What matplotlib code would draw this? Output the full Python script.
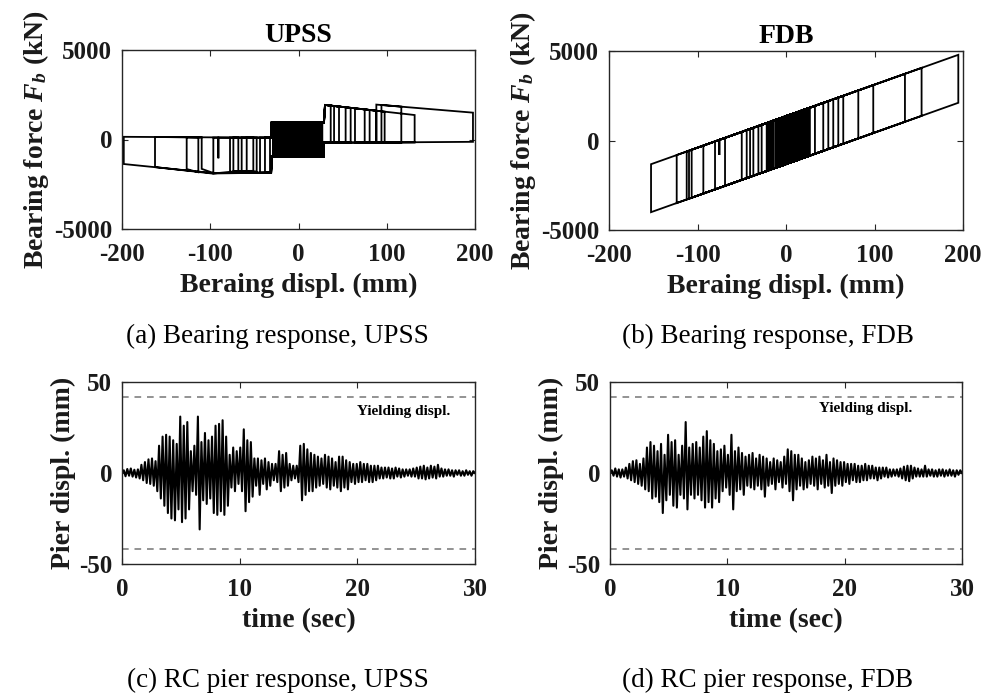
import numpy as np
import matplotlib
matplotlib.use("Agg")
import matplotlib.pyplot as plt

plt.rcParams['font.family'] = ['Liberation Serif', 'DejaVu Serif']
plt.rcParams['font.weight'] = 'bold'
plt.rcParams['mathtext.fontset'] = 'custom'
plt.rcParams['mathtext.rm'] = 'Liberation Serif:bold'
plt.rcParams['mathtext.it'] = 'Liberation Serif:bold:italic'
plt.rcParams['mathtext.bf'] = 'Liberation Serif:bold'
plt.rcParams['mathtext.bfit'] = 'Liberation Serif:bold:italic'

# ---------------- data ----------------
# UPSS bearing hysteresis: path vertices (displacement mm, force kN)
upss_loop = [
    (0, 0), (0, 950),
    (6, 950), (6, -950), (-5, -950), (-5, 950),
    (10, 950), (10, -950), (-9, -950), (-9, 950),
    (15, 950), (15, -950), (-13, -950), (-13, 950),
    (19, 950), (19, -950), (-17, -950), (-17, 950),
    (23, 950), (23, -950), (-22, -950), (-22, 950),
    (27, 950), (27, -950), (-27, -950), (-27, 950),
    (28.9, 950), (30, 1930), (36.5, 1894), (36.5, -170), (28.9, -170), (28.9, -950),
    (-30.4, -950), (-31, -1850), (-32.3, -1852), (-32.3, 100), (-30.4, 100), (-30.4, 950),
    (25, 950), (25, -950), (-20, -950), (-20, 950), (12, 950), (12, -950), (-3, -950), (-3, 950),
    (28.9, 950), (30, 1930), (45.9, 1842), (45.9, -170), (28.9, -170), (28.9, -950),
    (-30.4, -950), (-31, -1850), (-38, -1852), (-38, 100), (-30.4, 100), (-30.4, 950),
    (4, 950), (4, -950), (-15, -950), (-15, 950),
    (28.9, 950), (30, 1930), (59.1, 1769), (59.1, -170), (40.3, -170), (40.3, 1873),
    (53.4, 1800), (53.4, -170), (28.9, -170), (28.9, -950),
    (-30.4, -950), (-31, -1850), (-43.6, -1855), (-43.6, 100), (-30.4, 100), (-30.4, 950),
    (21, 950), (21, -950), (-7, -950), (-7, 950), (17, 950), (17, -950),
    (-30.4, -950), (-31, -1850), (-58.7, -1860), (-58.7, 100), (-47.4, 100), (-47.4, -1780),
    (-64.4, -1800), (-64.4, 100), (-30.4, 100), (-30.4, 950),
    (8, 950), (8, -950), (-25, -950), (-25, 950),
    (28.9, 950), (30, 1930), (80.6, 1650), (80.6, -170), (64, -170), (64, 1742),
    (97.6, 1555), (97.6, -170), (28.9, -170), (28.9, -950),
    (-30.4, -950), (-31, -1850), (-77.6, -1870), (-77.6, 100), (-68.2, 100), (-68.2, -1760),
    (-96.5, -1900), (-96.5, 100), (-90.8, 100), (-90.8, -1050), (-90.8, 100), (-51.2, 100),
    (-51.2, -1750), (-73.8, -1770), (-73.8, 100), (-30.4, 100), (-30.4, 950),
    (14, 950), (14, -950), (-28, -950), (-28, 950),
    (28.9, 950), (30, 1930), (131.6, 1367), (131.6, -170), (88.2, -170), (88.2, 1950),
    (197.7, 1500), (197.7, -130), (94, -165), (94, 1930), (116.5, 1837), (116.5, -165),
    (75, -170), (75, 1681), (88.2, 1608), (88.2, -170), (28.9, -170), (28.9, -950),
    (-30.4, -950), (-31, -1850), (-98, -1900), (-162.6, -1540), (-162.6, 140), (-113.5, 115),
    (-113.5, -1830), (-126.7, -1650), (-126.7, 120), (-109.7, 110), (-109.7, -1640),
    (-96, -1880), (-198, -1370), (-198, 150), (-30.4, 100), (-30.4, 950),
    (26, 950), (26, -950), (-29, -950), (-29, 950), (24, 950), (24, -950), (-26, -950), (-26, 950),
    (22, 950), (22, -950), (-23, -950), (-23, 950), (18, 950), (18, -950), (-19, -950), (-19, 950),
    (16, 950), (16, -950), (-14, -950), (-14, 950), (13, 950), (13, -950), (-11, -950), (-11, 950),
    (11, 950), (11, -950), (-8, -950), (-8, 950), (9, 950), (9, -950), (-4, -950), (-4, 950),
    (7, 950), (7, -950), (-2, -950), (-2, 950), (5, 950), (5, -950), (-1, -950), (-1, 950),
    (3, 950), (3, -950), (1, -950), (1, 950), (2, 950), (2, 0),
]

# FDB bearing hysteresis: path vertices (displacement mm, force kN)
fdb_loop = [
    (0, 0), (0, 1360),
    (4, 1430), (4, -1250), (-4, -1390), (-4, 1290),
    (8, 1501), (8, -1179), (-6, -1426), (-6, 1254),
    (10, 1536), (10, -1144), (-10, -1496), (-10, 1184),
    (14, 1606), (14, -1074), (-8, -1461), (-8, 1219),
    (6, 1466), (6, -1214), (-14.3, -1572), (-14.3, 1108),
    (18, 1677), (18, -1003), (-12, -1531), (-12, 1149),
    (12, 1571), (12, -1109), (-18, -1637), (-18, 1043),
    (22, 1747), (22, -933), (-2, -1355), (-2, 1325),
    (16, 1642), (16, -1038), (-21.8, -1704), (-21.8, 976),
    (20, 1712), (20, -968), (-27.5, -1804), (-27.5, 876),
    (25, 1800), (25, -880), (-31.2, -1869), (-31.2, 811),
    (32.7, 1936), (32.7, -744), (-36.9, -1969), (-36.9, 711),
    (27, 1835), (27, -845), (-40.6, -2035), (-40.6, 645),
    (42.1, 2101), (42.1, -579), (-44.4, -2101), (-44.4, 579),
    (47.8, 2201), (47.8, -479), (-50, -2200), (-50, 480),
    (53.4, 2300), (53.4, -380), (-68.9, -2533), (-68.9, 147),
    (59.1, 2400), (59.1, -280), (-80.2, -2732), (-80.2, -52),
    (-75.3, 35), (-75.3, -810), (-75.3, 35),
    (64.7, 2499), (64.7, -181), (-93.4, -2964), (-93.4, -284),
    (81.7, 2798), (81.7, 118), (-106.6, -3196), (-106.6, -516),
    (98.6, 3095), (98.6, 415), (-109.6, -3249), (-109.6, -569),
    (134.4, 3725), (134.4, 1045), (-112.2, -3295), (-112.2, -615),
    (194.7, 4787), (194.7, 2107), (-152.5, -4004), (-152.5, -1324),
    (153.2, 4056), (153.2, 1376), (-123.5, -3494), (-123.5, -814),
    (24, 1782), (24, -898), (-16, -1602), (-16, 1078),
    (2, 1395), (2, -1285), (-3, -1373), (-3, 1307),
    (26, 1818), (26, -862), (0, -1320), (0, 1360),
    (23, 1765), (23, -915), (-20, -1672), (-20, 1008),
    (19, 1694), (19, -986), (-5, -1408), (-5, 1272),
    (17, 1659), (17, -1021), (-1, -1338), (-1, 1342),
    (15, 1624), (15, -1056), (-11, -1514), (-11, 1166),
    (13, 1589), (13, -1091), (-7, -1443), (-7, 1237),
    (11, 1554), (11, -1126), (-9, -1478), (-9, 1202),
    (9, 1518), (9, -1162), (1, -1302), (1, 1378),
    (7, 1483), (7, -1197), (3, -1267), (3, 1413),
    (5, 1448), (5, -1232),
]

# RC pier displacement extremes (mm), sampled every 0.15 s from 0 to 30 s
upss_pier = [
    0, 1.5, -1.8, 2.2, -1.5, 2.5, -2.0, 1.8, -2.5, 2.0,
    -3.0, 4.5, -4.0, 6.0, -5.5, 7.5, -6.0, 8.0, -7.0, 6.5,
    -10, 15, -14, 20, -18, 21, -22, 20, -25, 18,
    -26, 16, -20, 31, -27, 26, -25, 28, -20, 12,
    -10, 15, -12, 31, -31, 17, -15, 22, -17, 18,
    -14, 20, -22, 26, -23, 27, -21, 29, -23, 20,
    -18, 10, -8, 14, -10, 12, -6, 14, -10, 24,
    -21, 18, -16, 17, -13, 8, -7, 8, -12, 7,
    -6, 8, -9, 6, -7, 5, -4, 5, -5, 12,
    -10, 10, -8, 11, -7, 5, -4, 4, -3, 4,
    -5, 15, -15, 16, -12, 13, -10, 11, -10, 10,
    -8, 9, -7, 8, -6, 10, -8, 9, -9, 8,
    -7, 6, -8, 9, -10, 9, -8, 7, -9, 6,
    -5, 5, -6, 5, -5, 6, -5, 5, -4, 5,
    -5, 4, -5, 4, -4, 4, -3, 3, -3, 3,
    -2.5, 3, -3, 2.5, -3, 3, -2, 2.5, -2.5, 2,
    -2, 2, -1.5, 2, -2, 2.5, -2, 3, -3, 3.5,
    -3, 4, -3.5, 3, -3, 4, -2.5, 3.5, -3, 4.5,
    -2, 2.5, -2, 2, -1.5, 2, -1.5, 1.5, -2, 1.5,
    -1, 1.5, -1.5, 1, -1.5, 1.5, -1, 1, -1.5, 1,
    0,
]
fdb_pier = [
    0, 1.5, -1.5, 2.5, -2, 2, -2.5, 2, -2, 3,
    -3, 5, -4, 6.5, -5, 7, -6, 5, -7, 8,
    -9, 14, -10, 17, -14, 15, -13, 12, -16, 16,
    -22, 10, -15, 21, -12, 17, -18, 18, -19, 10,
    -12, 15, -14, 28, -20, 14, -12, 16, -14, 17,
    -12, 14, -15, 20, -19, 23, -16, 18, -19, 16,
    -14, 12, -16, 13, -10, 15, -8, 10, -12, 21,
    -20, 12, -10, 14, -9, 11, -12, 9, -7, 10,
    -8, 11, -9, 8, -7, 10, -9, 9, -13, 8,
    -7, 6, -6, 8, -9, 7, -5, 6, -8, 9,
    -6, 13, -10, 12, -15, 10, -9, 10, -7, 8,
    -9, 6, -8, 7, -6, 9, -7, 8, -9, 9,
    -6, 7, -8, 10, -7, 6, -11, 8, -7, 7,
    -6, 6, -7, 6, -5, 5, -6, 5, -4, 5,
    -5, 4, -5, 4, -4, 5, -4, 4, -3, 4,
    -3, 3, -4, 3, -3, 3, -2, 3, -2.5, 2,
    -2, 2, -1.5, 2, -2, 2.5, -3, 3.5, -4, 4,
    -4.5, 4, -3, 3, -2, 2.5, -2, 2, -2, 4,
    -2, 2, -1.5, 2, -2, 1.5, -2, 2, -1.5, 2,
    -2, 1.5, -1.5, 2, -1.5, 1.5, -2, 1.5, -1, 1.5,
    0,
]

yield_displ = 42
bearing_xticks = [-200, -100, 0, 100, 200]
bearing_yticks = [-5000, 0, 5000]
pier_xticks = [0, 10, 20, 30]
pier_yticks = [-50, 0, 50]
titles = ["UPSS", "FDB"]
captions = ["(a) Bearing response, UPSS", "(b) Bearing response, FDB",
            "(c) RC pier response, UPSS", "(d) RC pier response, FDB"]

# ---------------- figure ----------------
W, H = 984, 698
fig = plt.figure(figsize=(W / 100, H / 100), dpi=100)
fig.patch.set_facecolor('white')

def px_axes(l, t, r, b):
    return fig.add_axes([l / W, 1 - b / H, (r - l) / W, (b - t) / H])

ax_a = px_axes(122, 50, 475, 229)
ax_b = px_axes(609, 51, 963, 230)
ax_c = px_axes(122, 382, 475, 564)
ax_d = px_axes(610, 382, 962, 564)

dark = '#262626'

def style(ax):
    for s in ax.spines.values():
        s.set_color(dark)
        s.set_linewidth(1.0)
    ax.tick_params(direction='in', top=True, right=True, length=4, width=0.8,
                   colors=dark, labelsize=18)
    ax.tick_params(axis='x', pad=10)
    ax.tick_params(axis='y', pad=7)
    for lab in ax.get_xticklabels() + ax.get_yticklabels():
        lab.set_fontweight('bold')
        lab.set_color('#1a1a1a')

# bearing plots
for ax, loop, title in [(ax_a, upss_loop, titles[0]), (ax_b, fdb_loop, titles[1])]:
    xs = [p[0] for p in loop]
    ys = [p[1] for p in loop]
    ax.plot(xs, ys, color='black', lw=1.3, solid_joinstyle='miter')
    ax.set_xlim(-200, 200)
    ax.set_ylim(-5000, 5000)
    ax.set_xticks(bearing_xticks)
    ax.set_yticks(bearing_yticks)
    ax.set_xticklabels([str(v) for v in bearing_xticks])
    ax.set_yticklabels([str(v) for v in bearing_yticks])
    style(ax)
    ax.set_title(title, fontsize=20, fontweight='bold', color='black', pad=6)
    ax.set_xlabel('Beraing displ. (mm)', fontsize=20, fontweight='bold', color='#1a1a1a', labelpad=5)
    ax.set_ylabel(r'Bearing force $\mathbfit{F}_{\mathbfit{b}}$ (kN)', fontsize=20,
                  fontweight='bold', color='#1a1a1a', labelpad=2)

# pier plots
for ax, series, txt_xy in [(ax_c, upss_pier, (20.0, 33.6)), (ax_d, fdb_pier, (17.8, 35.6))]:
    t = np.linspace(0, 30, len(series))
    ax.plot(t, series, color='black', lw=1.5)
    ax.axhline(yield_displ, color='#808080', ls=(0, (4, 3.5)), lw=1.2)
    ax.axhline(-yield_displ, color='#808080', ls=(0, (4, 3.5)), lw=1.2)
    ax.text(txt_xy[0], txt_xy[1], 'Yielding displ.', fontsize=11, fontweight='bold',
            ha='left', va='center', color='black')
    ax.set_xlim(0, 30)
    ax.set_ylim(-50, 50)
    ax.set_xticks(pier_xticks)
    ax.set_yticks(pier_yticks)
    ax.set_xticklabels([str(v) for v in pier_xticks])
    ax.set_yticklabels([str(v) for v in pier_yticks])
    style(ax)
    ax.set_xlabel('time (sec)', fontsize=20, fontweight='bold', color='#1a1a1a', labelpad=5)
    ax.set_ylabel('Pier displ. (mm)', fontsize=20, fontweight='bold', color='#1a1a1a', labelpad=2)

# captions
cap_pos = [(277, 336), (768, 336), (278, 680), (768, 680)]
for (cx, cy), cap in zip(cap_pos, captions):
    fig.text(cx / W, 1 - cy / H, cap, fontsize=19.5, fontweight='normal',
             ha='center', va='center', color='black')

fig.savefig('out.png', dpi=100)
